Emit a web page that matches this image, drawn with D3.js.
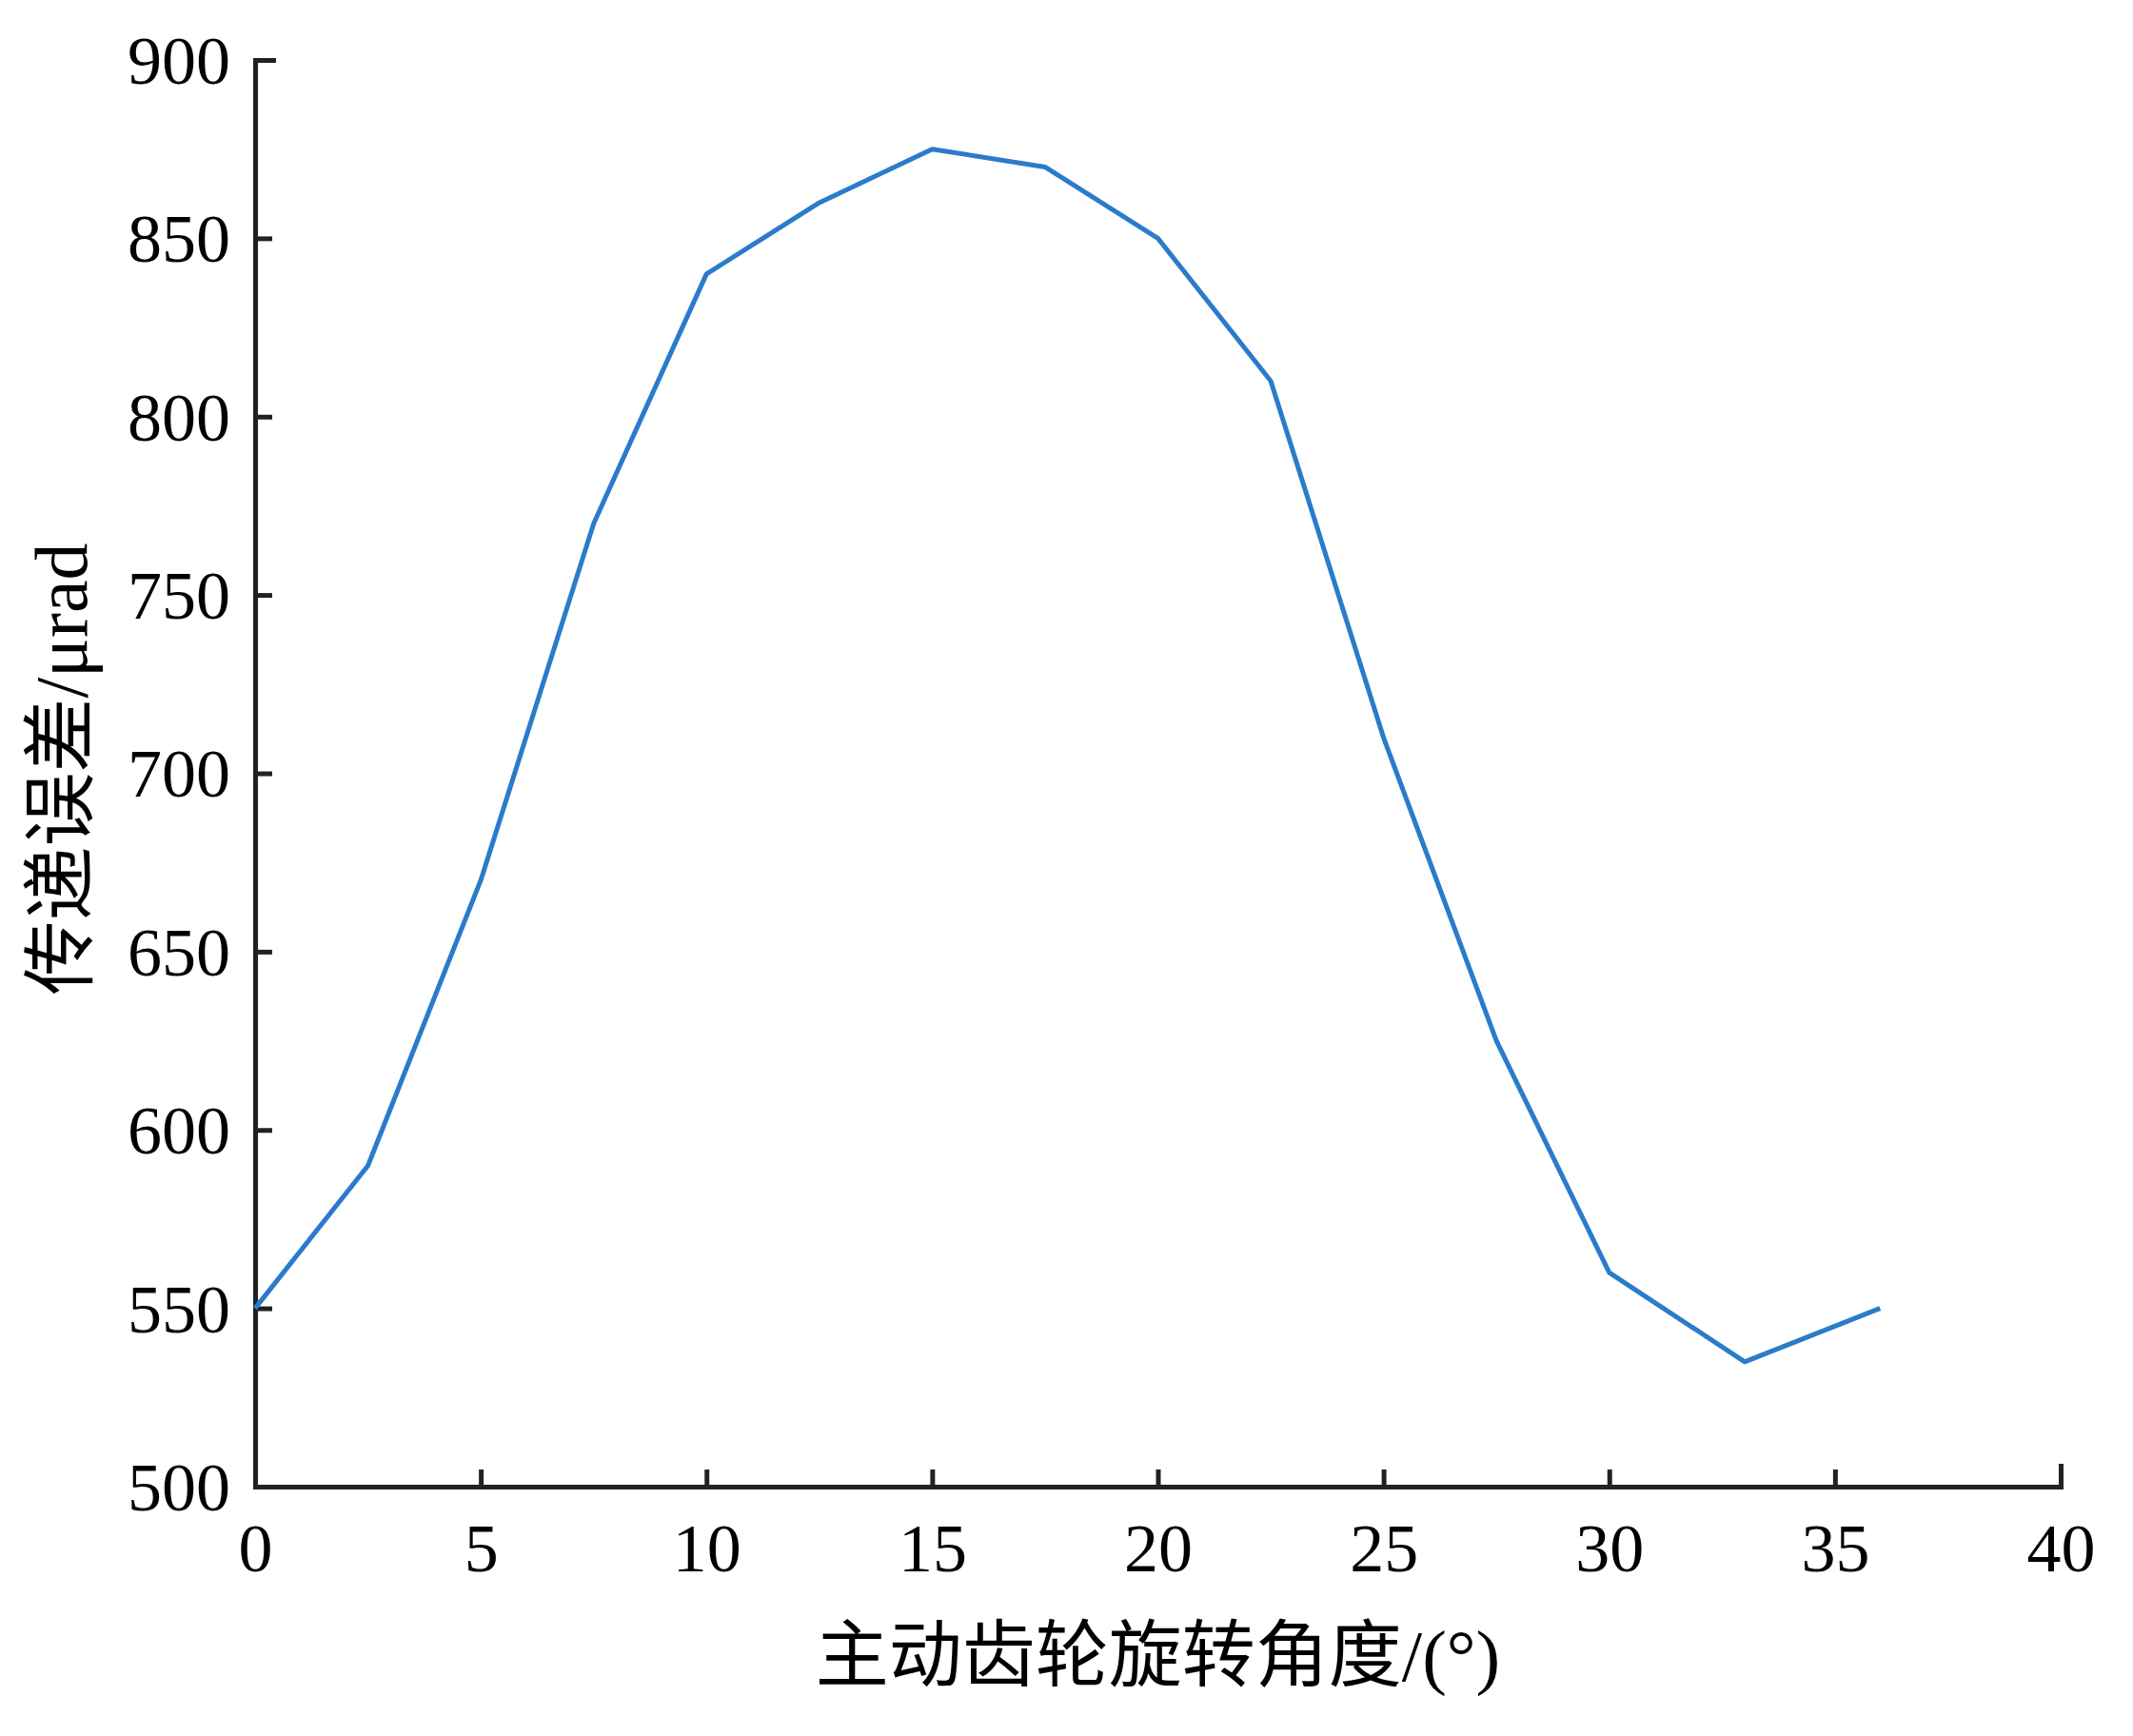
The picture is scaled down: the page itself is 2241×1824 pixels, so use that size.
<!DOCTYPE html>
<html>
<head>
<meta charset="utf-8">
<script src="https://cdn.jsdelivr.net/npm/d3@7"></script>
<style>
  body { margin: 0; background: #fff; }
  svg { display: block; }
  .tick text { font-family: "Liberation Serif", "DejaVu Serif", serif; }
  .title { font-family: "Liberation Serif", "Noto Sans CJK SC", serif; }
</style>
</head>
<body>
<svg id="chart" width="2241" height="1824"></svg>
<script>
// data
var angles = [0, 2.5, 5, 7.5, 10, 12.5, 15, 17.5, 20, 22.5, 25, 27.5, 30, 33, 36];
var errors = [550, 590, 670, 770, 840, 860, 875, 870, 850, 810, 710, 625, 560, 535, 550];
var xTicks = [0, 5, 10, 15, 20, 25, 30, 35, 40];
var yTicks = [500, 550, 600, 650, 700, 750, 800, 850, 900];
var xTitle = "主动齿轮旋转角度/(°)";
var yTitle = "传递误差/μrad";

var svg = d3.select("#chart"),
    margin = {top: 63, right: 76, bottom: 262, left: 268},
    width = +svg.attr("width") - margin.left - margin.right,
    height = +svg.attr("height") - margin.top - margin.bottom;

var x = d3.scaleLinear().domain([0, 40]).range([0, width]),
    y = d3.scaleLinear().domain([500, 900]).range([height, 0]);

var g = svg.append("g")
  .attr("transform", "translate(" + margin.left + "," + margin.top + ")");

var data = angles.map(function(a, i) { return {a: a, e: errors[i]}; });

// x axis, ticks pointing inward
var xAxis = g.append("g")
  .attr("transform", "translate(0," + height + ")")
  .call(d3.axisBottom(x).tickValues(xTicks).tickSizeInner(-18).tickSizeOuter(-24).tickPadding(38));

// y axis, ticks pointing inward
var yAxis = g.append("g")
  .call(d3.axisLeft(y).tickValues(yTicks).tickSizeInner(-18).tickSizeOuter(-22).tickPadding(26));

[xAxis, yAxis].forEach(function(ax) {
  ax.select(".domain").attr("stroke", "#222").attr("stroke-width", 5);
  ax.selectAll(".tick line").attr("stroke", "#222").attr("stroke-width", 5);
  ax.selectAll(".tick text").attr("fill", "#000").style("font-size", "72px");
});
xAxis.selectAll(".tick text").attr("dy", "0.71em");
yAxis.selectAll(".tick text").attr("dy", "0.34em");

var line = d3.line()
  .x(function(d) { return x(d.a); })
  .y(function(d) { return y(d.e); });

g.append("path")
  .datum(data)
  .attr("fill", "none")
  .attr("stroke", "#2b7bcb")
  .attr("stroke-width", 5)
  .attr("stroke-linejoin", "round")
  .attr("d", line);

// axis titles
svg.append("text")
  .attr("class", "title")
  .attr("x", margin.left + width / 2)
  .attr("y", 1766)
  .attr("text-anchor", "middle")
  .style("font-size", "77px")
  .attr("fill", "#000")
  .text(xTitle);

svg.append("text")
  .attr("class", "title")
  .attr("transform", "translate(91,808) rotate(-90)")
  .attr("text-anchor", "middle")
  .style("font-size", "78px")
  .attr("fill", "#000")
  .text(yTitle);
</script>
</body>
</html>
